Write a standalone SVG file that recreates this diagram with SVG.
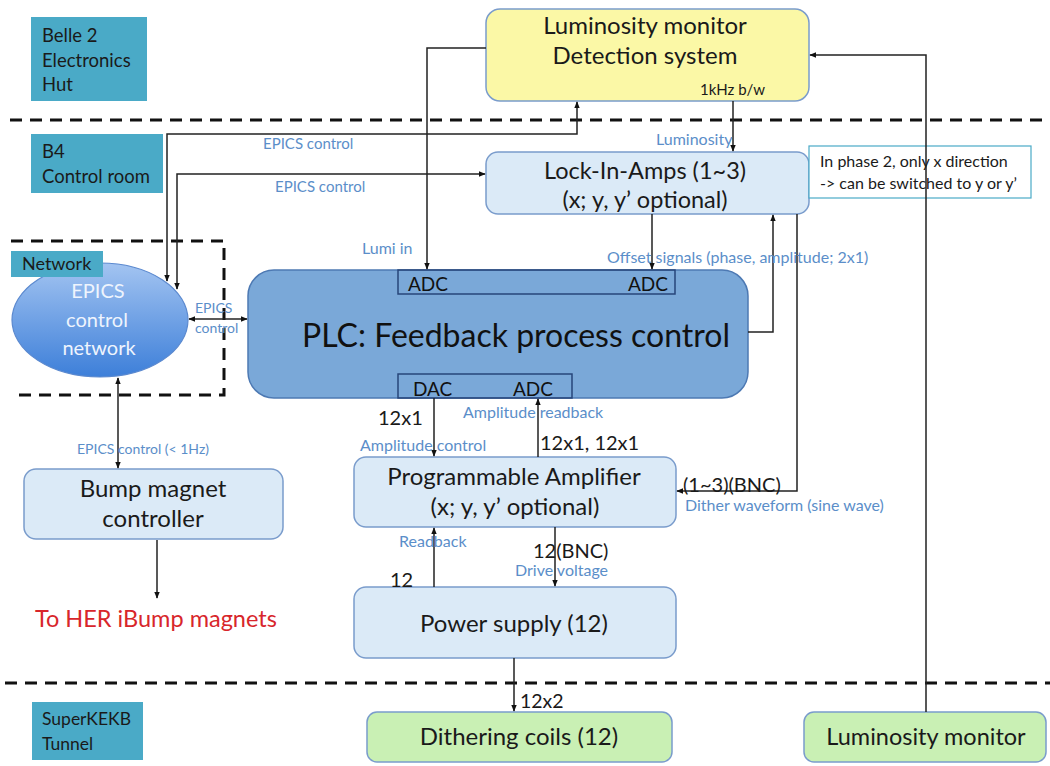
<svg xmlns="http://www.w3.org/2000/svg" width="1050" height="766" viewBox="0 0 1050 766">
<defs>
<marker id="ah" viewBox="0 0 10 10" refX="9" refY="5" markerWidth="7" markerHeight="7" orient="auto-start-reverse" markerUnits="userSpaceOnUse"><path d="M0,1 L10,5 L0,9 z" fill="#111"/></marker>
<linearGradient id="eg" x1="0" y1="0" x2="0" y2="1"><stop offset="0" stop-color="#a3c4f1"/><stop offset="1" stop-color="#3d7fd9"/></linearGradient>
</defs>
<style>
text{font-family:Lato,"Liberation Sans",sans-serif;}
.zone{fill:#4aaac7;}
.zt{font-size:18.5px;fill:#1a1a1a;}
.box{fill:#dbeaf7;stroke:#7a9ccc;stroke-width:1.5;}
.yel{fill:#fbf8a6;stroke:#7a9ccc;stroke-width:1.5;}
.grn{fill:#c9f0b4;stroke:#7a9ccc;stroke-width:1.5;}
.plc{fill:#7aa8d8;stroke:#4d79b3;stroke-width:1.5;}
.t{fill:#1a1a1a;text-anchor:middle;}
.lbl{fill:#5b8ec9;font-size:16px;}
.dk{fill:#1a1a1a;font-size:20px;}
.dash{stroke:#111;stroke-width:3;stroke-dasharray:12 8;fill:none;}
.c{stroke:#222;stroke-width:1.5;fill:none;}
.a{marker-end:url(#ah);}
.aa{marker-end:url(#ah);marker-start:url(#ah);}
</style>
<rect width="1050" height="766" fill="#ffffff"/>
<g id="zones">
<path class="dash" d="M10,120 H1050"/>
<path class="dash" d="M5,683 H1050"/>
<path class="dash" d="M11,241 H224 V395 H11"/>
<g id="zone-hut"><rect class="zone" x="31" y="17" width="116" height="84"/><text class="zt" x="42" y="42">Belle 2</text><text class="zt" x="42" y="67">Electronics</text><text class="zt" x="42" y="91">Hut</text></g>
<g id="zone-b4"><rect class="zone" x="31" y="134" width="132" height="59"/><text class="zt" x="42" y="158">B4</text><text class="zt" x="42" y="183">Control room</text></g>
<g id="zone-tunnel"><rect class="zone" x="32" y="702" width="111" height="58"/><text class="zt" x="42" y="725" style="font-size:17.5px">SuperKEKB</text><text class="zt" x="42" y="750" style="font-size:17.5px">Tunnel</text></g>
</g>
<g id="lumi-detect"><rect class="yel" x="486" y="9" width="323" height="92" rx="14"/><text class="t" x="645" y="34" style="font-size:24px">Luminosity monitor</text><text class="t" x="645" y="64" style="font-size:24px">Detection system</text><text x="700" y="95" style="font-size:15px;fill:#1a1a1a">1kHz  b/w</text></g>
<g id="lockin"><rect class="box" x="486" y="152" width="323" height="62" rx="12"/><text class="t" x="645" y="179" style="font-size:23.5px">Lock-In-Amps (1~3)</text><text class="t" x="645" y="208" style="font-size:23.5px">(x; y, y’ optional)</text></g>
<g id="note"><rect x="809" y="146" width="222" height="52" fill="#fff" stroke="#4aaac7" stroke-width="1.2"/><text x="820" y="167" style="font-size:16px;fill:#1a1a1a">In phase 2, only x direction</text><text x="820" y="189" style="font-size:16px;fill:#1a1a1a">-&gt; can be switched to y or y’</text></g>
<g id="epics-net"><ellipse cx="100" cy="320" rx="88" ry="57" fill="url(#eg)" stroke="#5b89cf" stroke-width="1.2"/><text class="t" x="98" y="298" style="font-size:20px;fill:#eef4fd">EPICS</text><text class="t" x="97" y="327" style="font-size:20px;fill:#eef4fd">control</text><text class="t" x="99" y="355" style="font-size:20px;fill:#eef4fd">network</text></g>
<g id="zone-net"><rect class="zone" x="11" y="251" width="92" height="26"/><text class="zt" x="22" y="270" style="font-size:18px">Network</text></g>
<g id="plc"><rect class="plc" x="248" y="270" width="500" height="128" rx="26"/><rect x="398" y="270" width="277" height="24" fill="none" stroke="#27457a" stroke-width="1.5"/><rect x="398" y="374" width="174" height="24" fill="none" stroke="#27457a" stroke-width="1.5"/><text x="408" y="291" style="font-size:19px;fill:#111">ADC</text><text x="628" y="291" style="font-size:19px;fill:#111">ADC</text><text x="413" y="396" style="font-size:19px;fill:#111">DAC</text><text x="513" y="396" style="font-size:19px;fill:#111">ADC</text><text class="t" x="516" y="347" style="font-size:32px;fill:#111">PLC: Feedback process control</text></g>
<g id="bump"><rect class="box" x="24" y="469" width="259" height="70" rx="12"/><text class="t" x="153" y="497" style="font-size:24px">Bump magnet</text><text class="t" x="153" y="527" style="font-size:24px">controller</text></g>
<g id="her"><text x="35" y="627" style="font-size:23.5px;fill:#d8262b">To HER iBump magnets</text></g>
<g id="progamp"><rect class="box" x="354" y="457" width="322" height="70" rx="12"/><text class="t" x="514" y="485" style="font-size:24px">Programmable Amplifier</text><text class="t" x="515" y="515" style="font-size:24px">(x; y, y’ optional)</text></g>
<g id="power"><rect class="box" x="354" y="587" width="322" height="71" rx="12"/><text class="t" x="514" y="632" style="font-size:24px">Power supply (12)</text></g>
<g id="coils"><rect class="grn" x="367" y="712" width="305" height="50" rx="10"/><text class="t" x="519" y="745" style="font-size:24px">Dithering coils (12)</text></g>
<g id="lumi-mon"><rect class="grn" x="804" y="712" width="242" height="50" rx="10"/><text class="t" x="926" y="745" style="font-size:23.5px">Luminosity monitor</text></g>
<g id="connectors">
<path class="c a" d="M926,712 V55 H810"/>
<path class="c a" d="M733,101 V151"/>
<path class="c a" d="M486,48 H427 V269"/>
<path class="c aa" d="M167,281 V134 H577 V102"/>
<path class="c aa" d="M177,289 V174 H485"/>
<path class="c aa" d="M189,319 H247"/>
<path class="c aa" d="M118,378 V468"/>
<path class="c a" d="M157,540 V598"/>
<path class="c a" d="M652,214 V269"/>
<path class="c a" d="M748,332 H773 V215"/>
<path class="c a" d="M797,214 V491 H677"/>
<path class="c a" d="M434,398 V456"/>
<path class="c a" d="M538,457 V399"/>
<path class="c a" d="M434,587 V528"/>
<path class="c a" d="M555,527 V586"/>
<path class="c a" d="M514,658 V711"/>
<text class="lbl" x="263" y="149" style="font-size:15px">EPICS control</text>
<text class="lbl" x="275" y="192" style="font-size:15px">EPICS control</text>
<text class="lbl" x="362" y="254">Lumi in</text>
<text class="lbl" x="656" y="145">Luminosity</text>
<text class="lbl" x="607" y="263">Offset signals (phase, amplitude; 2x1)</text>
<text class="lbl" x="195" y="313" style="font-size:14px">EPICS</text>
<text class="lbl" x="195" y="333" style="font-size:14px">control</text>
<text class="lbl" x="77" y="454" style="font-size:14px">EPICS control (&lt; 1Hz)</text>
<text class="dk" x="378" y="425">12x1</text>
<text class="lbl" x="463" y="418">Amplitude readback</text>
<text class="lbl" x="360" y="451">Amplitude control</text>
<text class="dk" x="540" y="450">12x1, 12x1</text>
<text class="dk" x="683" y="492">(1~3)(BNC)</text>
<text class="lbl" x="685" y="511">Dither waveform (sine wave)</text>
<text class="lbl" x="399" y="547">Readback</text>
<text class="dk" x="533" y="558">12(BNC)</text>
<text class="lbl" x="515" y="576">Drive voltage</text>
<text class="dk" x="390" y="587">12</text>
<text class="dk" x="520" y="708" style="font-size:19.5px">12x2</text>
</g>
</svg>
